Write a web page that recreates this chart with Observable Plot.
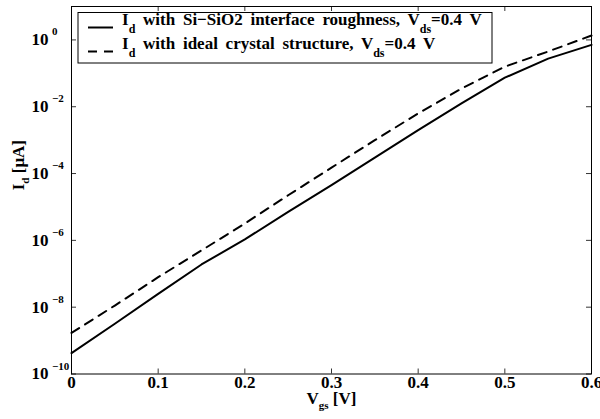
<!DOCTYPE html>
<html><head><meta charset="utf-8">
<script src="https://cdn.jsdelivr.net/npm/d3@7"></script>
<script src="https://cdn.jsdelivr.net/npm/@observablehq/plot@0.6"></script>
<style>html,body{margin:0;padding:0;background:#fff;}</style>
</head><body><div id="chart"></div>
<script>
// ---- data ----
const vgs = [0, 0.05, 0.1, 0.15, 0.2, 0.25, 0.3, 0.35, 0.4, 0.45, 0.5, 0.55, 0.6];
const idRough = [4.2e-10, 3.2e-9, 2.5e-8, 1.9e-7, 1.07e-6, 7.1e-6, 4.5e-5, 3.0e-4, 2.0e-3, 1.26e-2, 7.4e-2, 0.275, 0.71];
const idIdeal = [1.7e-9, 1.12e-8, 7.9e-8, 5.0e-7, 3.2e-6, 2.24e-5, 1.5e-4, 1.0e-3, 6.3e-3, 3.5e-2, 0.158, 0.45, 1.35];
const xTicks = [0, 0.1, 0.2, 0.3, 0.4, 0.5, 0.6];
const xTickLabels = ["0", "0.1", "0.2", "0.3", "0.4", "0.5", "0.6"];
const yTicks = [1e-10, 1e-8, 1e-6, 1e-4, 1e-2, 1];
const yTickExponents = ["\u221210", "\u22128", "\u22126", "\u22124", "\u22122", "0"];
const seriesNames = [
  "I_{d} with Si\u2212SiO2 interface roughness, V_{ds}=0.4 V",
  "I_{d} with ideal crystal structure, V_{ds}=0.4 V"
];
const xTitle = "V_{gs} [V]";
const yTitle = "I_{d} [\u03bcA]";

const rough = vgs.map((v, i) => ({v, id: idRough[i]}));
const ideal = vgs.map((v, i) => ({v, id: idIdeal[i]}));

const FONT = "Liberation Serif, Times New Roman, serif";
const W = 600, H = 419, mL = 71, mR = 9, mT = 6, mB = 45.5;
const iW = W - mL - mR, iH = H - mT - mB, TL = 5;

const txt = {fontFamily: FONT, fontWeight: "bold", fill: "black"};

const chart = Plot.plot({
  width: W, height: H,
  marginLeft: mL, marginRight: mR, marginTop: mT, marginBottom: mB,
  x: {domain: [0, 0.6], axis: null},
  y: {type: "log", domain: [1e-10, 10], axis: null},
  style: {background: "white", overflow: "visible"},
  marks: [
    // inward ticks on all four sides
    Plot.ruleX(xTicks, {x: d => d, insetTop: iH - TL, stroke: "black", strokeWidth: 0.8}),
    Plot.ruleX(xTicks, {x: d => d, insetBottom: iH - TL, stroke: "black", strokeWidth: 0.8}),
    Plot.ruleY(yTicks, {y: d => d, insetRight: iW - TL, stroke: "black", strokeWidth: 0.8}),
    Plot.ruleY(yTicks, {y: d => d, insetLeft: iW - TL, stroke: "black", strokeWidth: 0.8}),
    Plot.line(rough, {x: "v", y: "id", stroke: "black", strokeWidth: 2}),
    Plot.line(ideal, {x: "v", y: "id", stroke: "black", strokeWidth: 2, strokeDasharray: "9,7"}),
    Plot.frame({stroke: "black", strokeWidth: 1}),
    // x tick labels
    Plot.text(xTicks, {x: d => d, frameAnchor: "bottom", dy: 14, text: (d, i) => xTickLabels[i],
      fontSize: 17, ...txt}),
    // y tick labels: "10" + exponent
    Plot.text(yTicks, {y: d => d, frameAnchor: "left", dx: -40, textAnchor: "start", text: () => "10",
      fontSize: 17, ...txt}),
    Plot.text(yTicks, {y: d => d, frameAnchor: "left", dx: -19.5, dy: -8, textAnchor: "start",
      text: (d, i) => yTickExponents[i], fontSize: 11, ...txt}),
    // axis titles
    Plot.text([xTitle], {frameAnchor: "bottom", dy: 29.5, text: d => d, fontSize: 17, ...txt}),
    Plot.text([yTitle], {frameAnchor: "left", dx: -53, rotate: -90, text: d => d, fontSize: 17, ...txt})
  ]
});

// rich text: turn "_{...}" into subscripts
function rich(textEl, str, fs, subFs, shift) {
  const t = d3.select(textEl);
  t.text(null);
  const parts = str.split(/(_\{[^}]*\})/).filter(s => s.length);
  let down = false;
  for (const p of parts) {
    if (p.startsWith("_{")) {
      t.append("tspan").attr("font-size", subFs).attr("dy", shift).text(p.slice(2, -1));
      down = true;
    } else {
      const s = t.append("tspan").attr("font-size", fs).text(p);
      if (down) { s.attr("dy", -shift); down = false; }
    }
  }
}
const svg = d3.select(chart);
svg.selectAll("text").each(function() {
  const s = this.textContent;
  if (s.includes("_{")) rich(this, s, 17, 11, 5);
});

// legend
const lg = svg.append("g").attr("font-family", FONT).attr("font-weight", "bold")
  .attr("text-anchor", "start").attr("fill", "black");
const lx = 78, ly = 12.5, lw = 414, lh = 50.5;
lg.append("rect").attr("x", lx).attr("y", ly).attr("width", lw).attr("height", lh)
  .attr("fill", "white").attr("stroke", "black").attr("stroke-width", 1);
const rowsY = [25, 49];
const dashes = [null, "9,7"];
seriesNames.forEach((name, i) => {
  const ln = lg.append("line").attr("x1", 88).attr("x2", 113)
    .attr("y1", rowsY[i] + 2.5).attr("y2", rowsY[i] + 2.5)
    .attr("stroke", "black").attr("stroke-width", 2);
  if (dashes[i]) ln.attr("stroke-dasharray", dashes[i]);
  const t = lg.append("text").attr("x", 122).attr("y", rowsY[i]).attr("font-size", 17)
    .attr("text-anchor", "start").attr("word-spacing", 3.5).node();
  rich(t, name, 17, 12, 7.5);
});

document.getElementById("chart").appendChild(chart);
</script>
</body></html>
